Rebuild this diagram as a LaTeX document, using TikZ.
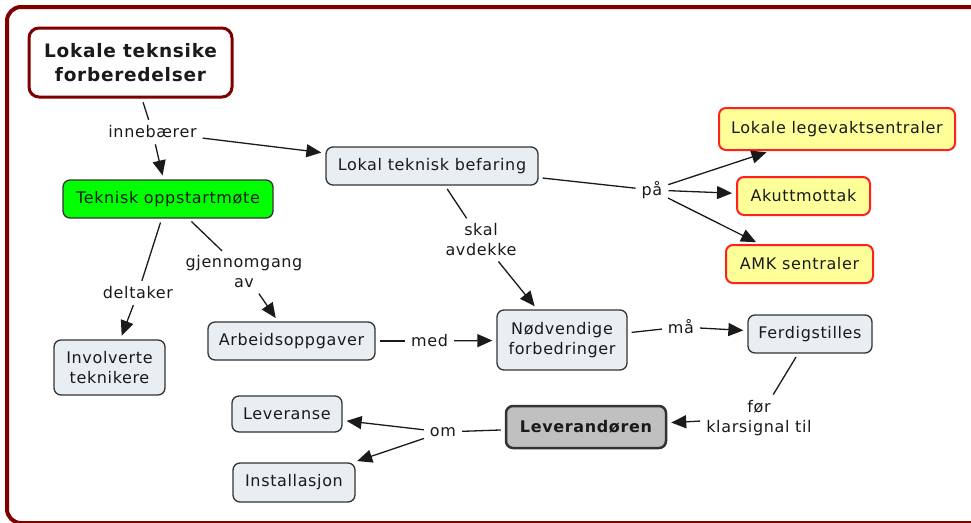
\documentclass[tikz,border=0pt]{standalone}
\usepackage{fontspec}
\newfontfamily\cf{DejaVu Sans}[LetterSpace=4]
\usetikzlibrary{arrows.meta}
\definecolor{framec}{HTML}{800000}
\definecolor{boxfill}{HTML}{E9EEF3}
\definecolor{boxline}{HTML}{333333}
\definecolor{yelfill}{HTML}{FFFF99}
\definecolor{redline}{HTML}{FF2020}
\definecolor{greenfill}{HTML}{00FF00}
\definecolor{grayfill}{HTML}{C0C0C0}
\definecolor{txt}{HTML}{1A1A1A}
\definecolor{linec}{HTML}{1A1A1A}
\tikzset{
  nodebox/.style={draw=boxline, fill=boxfill, rounded corners=7pt, line width=1.3pt,
    font=\cf\fontsize{16}{20}\selectfont, text=txt, align=center, inner sep=0pt},
  yelbox/.style={nodebox, draw=redline, fill=yelfill, line width=2pt},
  greenbox/.style={nodebox, fill=greenfill},
  graybox/.style={nodebox, fill=grayfill, line width=2.5pt, font=\cf\bfseries\fontsize{16}{20}\selectfont},
  titlebox/.style={nodebox, draw=framec, fill=white, line width=3pt, rounded corners=10pt,
    font=\cf\bfseries\fontsize{18.5}{24}\selectfont},
  lbl/.style={font=\cf\fontsize{16}{20}\selectfont, text=txt, align=center, inner sep=2pt},
  con/.style={line width=1.3pt, draw=linec, shorten <=4pt, shorten >=4pt},
  arr/.style={con, -{Triangle[length=15pt,width=13pt]}}
}
\begin{document}
\begin{tikzpicture}[x=1pt,y=-1pt]
\useasboundingbox (0,0) rectangle (971,522);
\path[clip] (0,0) rectangle (971,522);
\draw[line width=4pt, draw=framec, rounded corners=14pt] (7,7) rectangle (995,523);

% concept nodes
\node[titlebox, minimum width=203pt, minimum height=69pt] (title) at (130.5,62.5) {Lokale teknsike\\forberedelser};
\node[greenbox, minimum width=210pt, minimum height=38pt] (tek) at (168,199) {Teknisk oppstartmøte};
\node[nodebox, minimum width=212pt, minimum height=38pt] (bef) at (432,166) {Lokal teknisk befaring};
\node[yelbox, minimum width=236pt, minimum height=42pt] (lege) at (837,129) {Lokale legevaktsentraler};
\node[yelbox, minimum width=133pt, minimum height=38pt] (akutt) at (803.5,196) {Akuttmottak};
\node[yelbox, minimum width=147pt, minimum height=38pt] (amk) at (799.5,264) {AMK sentraler};
\node[nodebox, minimum width=111pt, minimum height=55pt] (inv) at (109.5,367.5) {Involverte\\teknikere};
\node[nodebox, minimum width=167pt, minimum height=38pt] (arb) at (291.5,341) {Arbeidsoppgaver};
\node[nodebox, minimum width=130pt, minimum height=60pt] (nod) at (562,340) {Nødvendige\\forbedringer};
\node[nodebox, minimum width=124pt, minimum height=38pt] (ferd) at (810,334) {Ferdigstilles};
\node[graybox, minimum width=160pt, minimum height=42pt] (lev) at (586,427) {Leverandøren};
\node[nodebox, minimum width=110pt, minimum height=36pt] (levr) at (287,414) {Leveranse};
\node[nodebox, minimum width=122pt, minimum height=39pt] (inst) at (294,482.5) {Installasjon};

% linking phrases
\node[lbl] (inne) at (152.5,132) {innebærer};
\node[lbl] (pa) at (652,190) {på};
\node[lbl] (delt) at (138,293) {deltaker};
\node[lbl] (gjen) at (244,272) {gjennomgang\\av};
\node[lbl] (skal) at (481,240) {skal\\avdekke};
\node[lbl] (med) at (429.5,341) {med};
\node[lbl] (ma) at (681,327) {må};
\node[lbl] (for) at (759,418) {før\\klarsignal til};
\node[lbl] (om) at (443,432) {om};

% connectors
\draw[con] (title) -- (inne);
\draw[arr] (inne) -- (tek);
\draw[arr] (inne) -- (bef);
\draw[con] (bef) -- (pa);
\draw[arr] (pa) -- (lege);
\draw[arr] (pa) -- (akutt);
\draw[arr] (pa) -- (amk);
\draw[con] (tek) -- (delt);
\draw[arr] (delt) -- (inv);
\draw[con] (tek) -- (gjen);
\draw[arr] (gjen) -- (arb);
\draw[con] (bef) -- (skal);
\draw[arr] (skal) -- (nod);
\draw[con] (arb) -- (med);
\draw[arr] (med) -- (nod);
\draw[con] (nod) -- (ma);
\draw[arr] (ma) -- (ferd);
\draw[con] (ferd) -- (for);
\draw[arr] (for) -- (lev);
\draw[con] (lev) -- (om);
\draw[arr] (om) -- (levr);
\draw[arr] (om) -- (inst);
\end{tikzpicture}
\end{document}
